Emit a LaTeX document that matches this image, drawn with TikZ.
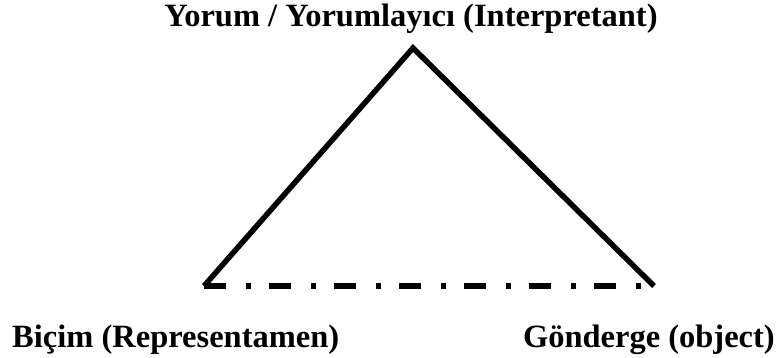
\documentclass[tikz,border=0pt]{standalone}
\usepackage{fontspec}
\setmainfont{Liberation Serif}
\begin{document}
\begin{tikzpicture}[x=1pt,y=-1pt,
  lbl/.style={inner sep=0pt,font=\bfseries\fontsize{32.5}{39}\selectfont},
  side/.style={line width=5.5pt,line join=miter,line cap=butt},
  base/.style={line width=6pt,line cap=butt,dash pattern=on 22pt off 20pt on 5pt off 18pt}]
\useasboundingbox (0,0) rectangle (784,358);
\coordinate (A) at (413,48);
\coordinate (L) at (204,286);
\coordinate (R) at (654,286);
\draw[side] (L) -- (A) -- (R);
\draw[base] (L) -- (R);
\node[lbl,anchor=base] (top) at (411,27) {Yorum / Yorumlayıcı (Interpretant)};
\node[lbl,anchor=base west] (left) at (12,347) {Biçim (Representamen)};
\node[lbl,anchor=base east] (right) at (775,347) {Gönderge (object)};
\end{tikzpicture}
\end{document}
